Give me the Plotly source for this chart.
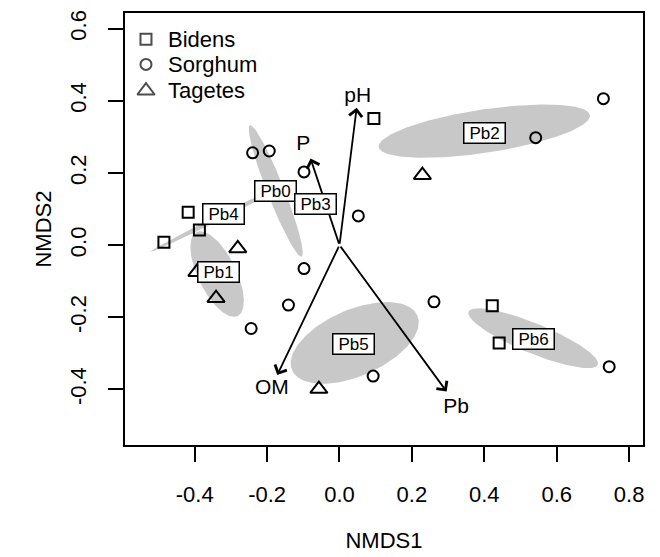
import numpy as np
import plotly.graph_objects as go

# ---------------- data ----------------
bidens_x = [-0.418, -0.387, -0.485, 0.095, 0.422, 0.441]
bidens_y = [0.091, 0.042, 0.008, 0.351, -0.168, -0.271]

sorghum_x = [-0.240, -0.194, -0.098, -0.098, -0.141, -0.244, 0.052, 0.093, 0.261, 0.542, 0.729, 0.745]
sorghum_y = [0.256, 0.261, 0.203, -0.065, -0.166, -0.231, 0.081, -0.363, -0.157, 0.298, 0.406, -0.337]

tagetes_x = [-0.281, -0.394, -0.341, -0.057, 0.229]
tagetes_y = [-0.009, -0.075, -0.147, -0.399, 0.194]

# group ellipses: centre, semi-axes, rotation (deg)
ell_names = ["Pb0", "Pb1", "Pb2", "Pb4", "Pb5", "Pb6"]
ell_cx = [-0.176, -0.338, 0.400, -0.329, 0.042, 0.535]
ell_cy = [0.150, -0.080, 0.316, 0.078, -0.271, -0.258]
ell_a = [0.1955, 0.1295, 0.295, 0.2168, 0.189, 0.193]
ell_b = [0.0235, 0.0526, 0.060, 0.007, 0.0918, 0.0415]
ell_ang = [111.4, 115.9, 8.6, 26.5, 23.7, -22.4]

# group labels
grp_labels = ["Pb0", "Pb3", "Pb4", "Pb1", "Pb2", "Pb5", "Pb6"]
grp_x = [-0.177, -0.066, -0.321, -0.334, 0.400, 0.038, 0.536]
grp_y = [0.150, 0.113, 0.086, -0.074, 0.312, -0.274, -0.260]

# environmental vectors
env_names = ["pH", "P", "OM", "Pb"]
env_x = [0.0475, -0.080, -0.172, 0.296]
env_y = [0.381, 0.240, -0.360, -0.406]
env_lab_x = [0.0503, -0.100, -0.187, 0.322]
env_lab_y = [0.411, 0.277, -0.397, -0.451]

x_ticks = [-0.4, -0.2, 0.0, 0.2, 0.4, 0.6, 0.8]
y_ticks = [-0.4, -0.2, 0.0, 0.2, 0.4, 0.6]

legend_names = ["Bidens", "Sorghum", "Tagetes"]
legend_symbols = ["square-open", "circle-open", "triangle-up-open"]
legend_sizes = [11, 11, 15]

FONT = "Liberation Sans, Arial, Helvetica, sans-serif"

fig = go.Figure()

# ellipses
t = np.linspace(0, 2 * np.pi, 200)
for cx, cy, a, b, ang in zip(ell_cx, ell_cy, ell_a, ell_b, ell_ang):
    th = np.deg2rad(ang)
    ex = cx + a * np.cos(t) * np.cos(th) - b * np.sin(t) * np.sin(th)
    ey = cy + a * np.cos(t) * np.sin(th) + b * np.sin(t) * np.cos(th)
    fig.add_trace(go.Scatter(x=ex, y=ey, mode="lines", fill="toself",
                             fillcolor="#c8c8c8", line=dict(width=0, color="#c8c8c8"),
                             hoverinfo="skip", showlegend=False))

mk_line = dict(color="black", width=2)
for name, xs, ys, sym, sz in zip(legend_names, [bidens_x, sorghum_x, tagetes_x],
                                 [bidens_y, sorghum_y, tagetes_y], legend_symbols, legend_sizes):
    fig.add_trace(go.Scatter(x=xs, y=ys, mode="markers", name=name, showlegend=False,
                             marker=dict(symbol=sym, size=sz, color="black", line=mk_line)))

# vector labels
fig.add_trace(go.Scatter(x=env_lab_x, y=env_lab_y, mode="text", text=env_names,
                         textfont=dict(family=FONT, size=21, color="black"),
                         textposition="middle center", showlegend=False, hoverinfo="skip"))

# legend (drawn inside the plot, top-left, on an overlay axis in fractions of the plot area)
leg_y = [0.939, 0.881, 0.820]
leg_mx = 0.0405
leg_tx = 0.0792
fig.add_trace(go.Scatter(x=[leg_mx] * 3, y=leg_y, mode="markers", xaxis="x2", yaxis="y2",
                         showlegend=False, hoverinfo="skip",
                         marker=dict(symbol=legend_symbols, size=legend_sizes, color="black",
                                     line=mk_line)))

annotations = []
for ex, ey in zip(env_x, env_y):
    annotations.append(dict(x=ex, y=ey, ax=0, ay=0, xref="x", yref="y", axref="x", ayref="y",
                            showarrow=True, arrowhead=4, arrowsize=1.4, arrowwidth=1.8,
                            arrowcolor="black", text="", standoff=0))
for lab, lx, ly in zip(grp_labels, grp_x, grp_y):
    annotations.append(dict(x=lx, y=ly, xref="x", yref="y", text=lab, showarrow=False,
                            font=dict(family=FONT, size=17, color="black"),
                            bgcolor="white", bordercolor="black", borderwidth=1.5,
                            borderpad=1, width=38, height=17))
for name, ly in zip(legend_names, leg_y):
    annotations.append(dict(x=leg_tx, y=ly, xref="x2", yref="y2", text=name, showarrow=False,
                            xanchor="left", yanchor="middle",
                            font=dict(family=FONT, size=22, color="black")))

axis_common = dict(showline=True, linecolor="black", linewidth=1.5, mirror=True,
                   ticks="outside", ticklen=15, tickwidth=1.5, tickcolor="black",
                   showgrid=False, zeroline=False, automargin=False,
                   tickfont=dict(family=FONT, size=22, color="black"))

# the page body keeps its default 8px margin, so the figure is 8px smaller
# and the margins are shifted to land the plot where the reference has it
fig.update_layout(
    width=652, height=549,
    margin=dict(l=117, r=17, t=5, b=112),
    paper_bgcolor="white", plot_bgcolor="white",
    font=dict(family=FONT, size=22, color="black"),
    xaxis=dict(range=[-0.5925, 0.8384], tickvals=x_ticks,
               ticktext=[f"{v:.1f}" for v in x_ticks],
               title=dict(text="NMDS1", font=dict(family=FONT, size=22), standoff=26),
               ticklabelstandoff=14, **axis_common),
    yaxis=dict(range=[-0.554, 0.6435], tickvals=y_ticks,
               ticktext=[f"{v:.1f}" for v in y_ticks], tickangle=-90,
               title=dict(text="NMDS2", font=dict(family=FONT, size=22), standoff=9),
               ticklabelstandoff=13, **axis_common),
    xaxis2=dict(overlaying="x", range=[0, 1], visible=False, fixedrange=True),
    yaxis2=dict(overlaying="y", range=[0, 1], visible=False, fixedrange=True),
    annotations=annotations,
    showlegend=False,
)

fig.write_html("out.html")
